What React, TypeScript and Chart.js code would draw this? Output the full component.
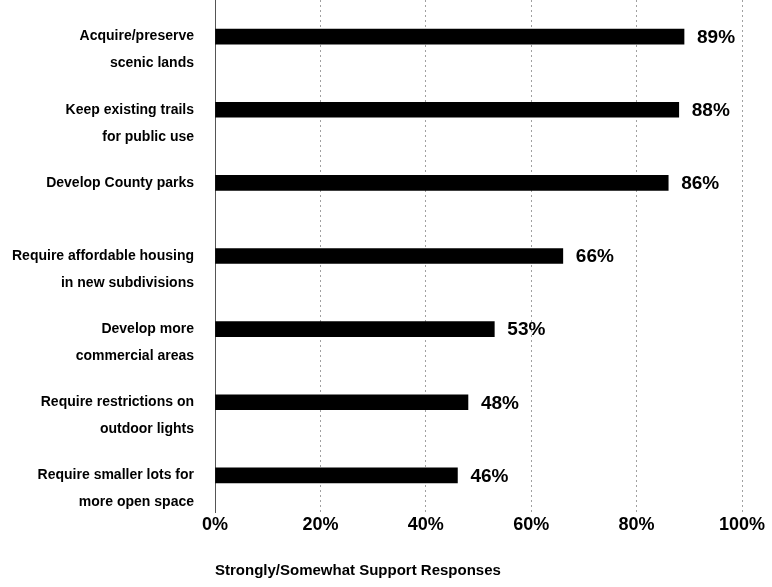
import React, { useEffect, useRef } from "react";
import { Chart, registerables } from "chart.js";
Chart.register(...registerables);

const categories: string[][] = [
  ["Acquire/preserve", "scenic lands"],
  ["Keep existing trails", "for public use"],
  ["Develop County parks"],
  ["Require affordable housing", "in new subdivisions"],
  ["Develop more", "commercial areas"],
  ["Require restrictions on", "outdoor lights"],
  ["Require smaller lots for", "more open space"],
];
const supportValues = [89, 88, 86, 66, 53, 48, 46];
const xTicks = [0, 20, 40, 60, 80, 100];
const axisTitle = "Strongly/Somewhat Support Responses";

const FONT = "'Liberation Sans', Arial, sans-serif";

const valueLabels = {
  id: "valueLabels",
  afterDatasetsDraw(chart: any) {
    const ctx = chart.ctx;
    const meta = chart.getDatasetMeta(0);
    ctx.save();
    ctx.font = `bold 19px ${FONT}`;
    ctx.fillStyle = "#000";
    ctx.textAlign = "left";
    ctx.textBaseline = "middle";
    meta.data.forEach((bar: any, i: number) => {
      ctx.fillText(`${supportValues[i]}%`, bar.x + 13, bar.y + 1);
    });
    ctx.restore();
  },
};

export default function App() {
  const ref = useRef<HTMLCanvasElement | null>(null);
  useEffect(() => {
    if (!ref.current) return;
    const chart = new Chart(ref.current, {
      type: "bar",
      data: {
        labels: categories.map((c) => c.join(" ")),
        datasets: [
          {
            data: supportValues,
            backgroundColor: "#000",
            borderWidth: 0,
            barThickness: 15,
          },
        ],
      },
      options: {
        indexAxis: "y",
        responsive: false,
        animation: false,
        layout: { padding: { top: 0, right: 30, bottom: 0, left: 0 } },
        plugins: { legend: { display: false }, tooltip: { enabled: false } },
        scales: {
          x: {
            min: 0,
            max: 100,
            afterBuildTicks: (s: any) => {
              s.ticks = xTicks.map((v) => ({ value: v }));
            },
            ticks: {
              callback: (v: any) => v + "%",
              font: { family: FONT, size: 18, weight: "bold" },
              color: "#000",
              padding: 2,
              maxRotation: 0,
            },
            grid: { color: "#a0a0a0", lineWidth: 1, drawTicks: false },
            border: { display: false, dash: [2, 3] },
            title: {
              display: true,
              text: axisTitle,
              align: "start",
              color: "#000",
              font: { family: FONT, size: 15, weight: "bold" },
              padding: { top: 0, bottom: 7 },
            },
            afterFit: (s: any) => {
              s.height = 75;
            },
          },
          y: {
            grid: { display: false, drawTicks: false },
            border: { display: true, color: "#555", dash: [2, 2], width: 1 },
            ticks: {
              autoSkip: false,
              padding: 21,
              color: "#000",
              font: { family: FONT, size: 14, weight: "bold", lineHeight: 1.93 },
              callback: (_v: any, i: number) =>
                categories[i].length > 1 ? ["", ...categories[i]] : categories[i][0],
            },
            afterFit: (s: any) => {
              s.width = 215;
              s.paddingTop = 0;
              s.paddingBottom = 0;
            },
          },
        },
      },
      plugins: [valueLabels],
    } as any);
    return () => chart.destroy();
  }, []);
  return (
    <div style={{ position: "fixed", left: 0, top: 0, width: 772, height: 587, background: "#fff" }}>
      <canvas ref={ref} width={772} height={587} style={{ display: "block" }} />
    </div>
  );
}
